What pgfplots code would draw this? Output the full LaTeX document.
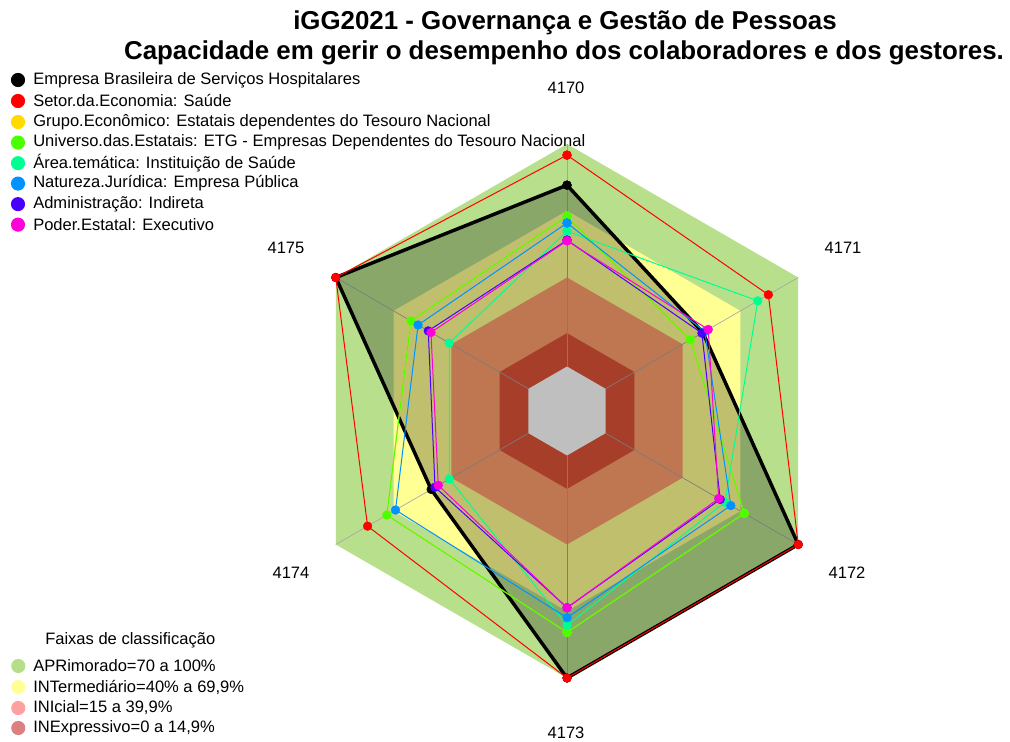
\documentclass[border=0pt]{standalone}
\usepackage{pgfplots}
\pgfplotsset{compat=1.18}
\usepackage{pgfplotstable}
\usepackage{fontspec}
\setmainfont{Liberation Sans}

\definecolor{cGreen}{RGB}{184,224,140}
\definecolor{cYellow}{RGB}{255,255,148}
\definecolor{cSalmon}{RGB}{254,160,107}
\definecolor{cDred}{RGB}{224,83,56}
\definecolor{sRed}{HTML}{FF0000}
\definecolor{sGold}{HTML}{FFDB00}
\definecolor{sLime}{HTML}{49FF00}
\definecolor{sSpring}{HTML}{00FF92}
\definecolor{sBlue}{HTML}{0092FF}
\definecolor{sIndigo}{HTML}{4900FF}
\definecolor{sMagenta}{HTML}{FF00DB}
\definecolor{lgGreen}{RGB}{182,222,136}
\definecolor{lgYellow}{RGB}{255,255,150}
\definecolor{lgPink}{RGB}{255,160,160}
\definecolor{lgDpink}{RGB}{220,128,128}
\definecolor{hdBlue}{RGB}{47,84,150}

% values (%) per axis; angle a in degrees; first row repeated to close the polygon
\pgfplotstableread{
a     emp   setor grupo univ  area  nat   adm   poder
90    81.5  95    67.5  67.5  60.8  64.5  56.8  56.5
30    50.5  84.5  44    44    79    51.5  50    53.3
-30   100   100   72    72    62    65    59.5  58.7
-90   100   100   79.5  79.5  76.3  72.9  68.4  68.4
-150  50.5  83.5  73.5  73.5  41.1  69    48.5  46.8
150   100   100   61    61    41.1  57.3  52    50.6
90    81.5  95    67.5  67.5  60.8  64.5  56.8  56.5
}\data

% classification bands (limits in %)
\pgfplotstableread{
a     bg   by   bs   br   bh
90    100  70   40   15   0
30    100  70   40   15   0
-30   100  70   40   15   0
-90   100  70   40   15   0
-150  100  70   40   15   0
150   100  70   40   15   0
90    100  70   40   15   0
}\bands

\pgfplotsset{
  band/.style={draw=none, fill=#1, forget plot},
  ser/.style={color=#1, line width=0.75pt, mark=*, mark size=3.3pt,
    mark options={solid, line width=0.3pt, fill=#1}},
}
\newcommand{\rx}[1]{(\thisrow{#1}+20)*cos(\thisrow{a})}
\newcommand{\ry}[1]{(\thisrow{#1}+20)*sin(\thisrow{a})}

\begin{document}
\begin{tikzpicture}
\path[use as bounding box] (0,0) rectangle (757.5pt,556.5pt);
\begin{axis}[
  at={(0,0)}, anchor=south west,
  scale only axis, width=757.5pt, height=556.5pt,
  xmin=-254.83, xmax=199.10, ymin=-148.76, ymax=184.72,
  enlargelimits=false, hide axis, clip=false,
]
% bands
\addplot[band=cGreen]  table[x expr={\rx{bg}}, y expr={\ry{bg}}] {\bands};
\addplot[band=cYellow] table[x expr={\rx{by}}, y expr={\ry{by}}] {\bands};
\addplot[band=cSalmon] table[x expr={\rx{bs}}, y expr={\ry{bs}}] {\bands};
\addplot[band=cDred]   table[x expr={\rx{br}}, y expr={\ry{br}}] {\bands};
\addplot[band=white]   table[x expr={\rx{bh}}, y expr={\ry{bh}}] {\bands};
% spokes
\pgfplotsinvokeforeach{90,30,-30,-90,-150,150}{
  \addplot[color=black!35, line width=0.5pt, forget plot]
    table[row sep=\\, x expr={(\thisrow{v}+20)*cos(#1)}, y expr={(\thisrow{v}+20)*sin(#1)}]
    {v\\ 0\\ 100\\};
}
% series
\addplot[color=black, line width=2.6pt, line join=round, fill=black, fill opacity=0.25,
  mark=*, mark size=3.3pt, mark options={solid, line width=0.3pt, fill=black, fill opacity=1}]
  table[x expr={\rx{emp}}, y expr={\ry{emp}}] {\data};
\addplot[ser=sRed]     table[x expr={\rx{setor}}, y expr={\ry{setor}}] {\data};
\addplot[ser=sGold]    table[x expr={\rx{grupo}}, y expr={\ry{grupo}}] {\data};
\addplot[ser=sLime]    table[x expr={\rx{univ}},  y expr={\ry{univ}}]  {\data};
\addplot[ser=sSpring]  table[x expr={\rx{area}},  y expr={\ry{area}}]  {\data};
\addplot[ser=sBlue]    table[x expr={\rx{nat}},   y expr={\ry{nat}}]   {\data};
\addplot[ser=sIndigo]  table[x expr={\rx{adm}},   y expr={\ry{adm}}]   {\data};
\addplot[ser=sMagenta] table[x expr={\rx{poder}}, y expr={\ry{poder}}] {\data};
\end{axis}

% cut heading fragment at top left (as in the reference)
\node[anchor=base west, inner sep=0, text=hdBlue, font=\bfseries\fontsize{22}{26}\selectfont] at (2pt,562.9pt) {g};

% title
\node[anchor=base, inner sep=0, font=\bfseries\fontsize{19.4}{23}\selectfont] at (423.75pt,534pt) {iGG2021 - Governança e Gestão de Pessoas};
\node[anchor=base, inner sep=0, font=\bfseries\fontsize{19.4}{23}\selectfont] at (423pt,511.5pt) {Capacidade em gerir o desempenho dos colaboradores e dos gestores.};

% axis labels
\begin{scope}[every node/.style={inner sep=0, font=\fontsize{12.4}{14}\selectfont}]
\node at (424.5pt,490.5pt) {4170};
\node at (632.25pt,370.5pt) {4171};
\node at (635.25pt,126.75pt) {4172};
\node at (424.5pt,6.75pt) {4173};
\node at (218.25pt,126.75pt) {4174};
\node at (214.5pt,370.5pt) {4175};
\end{scope}

% series legend
\begin{scope}[every node/.style={anchor=west, inner sep=0, font=\fontsize{12.4}{14}\selectfont}]
\fill[black]    (13.5pt,496.5pt)  circle (5.3pt); \node at (24.75pt,496.5pt)  {Empresa Brasileira de Serviços Hospitalares};
\fill[sRed]     (13.5pt,480.75pt) circle (5.3pt); \node at (24.75pt,480.75pt) {Setor.da.Economia: Saúde};
\fill[sGold]    (13.5pt,465pt)    circle (5.3pt); \node at (24.75pt,465pt)    {Grupo.Econômico: Estatais dependentes do Tesouro Nacional};
\fill[sLime]    (13.5pt,449.6pt)  circle (5.3pt); \node at (24.75pt,449.6pt)  {Universo.das.Estatais: ETG - Empresas Dependentes do Tesouro Nacional};
\fill[sSpring]  (13.5pt,434.1pt)  circle (5.3pt); \node at (24.75pt,434.1pt)  {Área.temática: Instituição de Saúde};
\fill[sBlue]    (13.5pt,418.8pt)  circle (5.3pt); \node at (24.75pt,418.8pt)  {Natureza.Jurídica: Empresa Pública};
\fill[sIndigo]  (13.5pt,403.4pt)  circle (5.3pt); \node at (24.75pt,403.4pt)  {Administração: Indireta};
\fill[sMagenta] (13.5pt,388pt)    circle (5.3pt); \node at (24.75pt,388pt)    {Poder.Estatal: Executivo};

% band legend
\node at (33.75pt,76.5pt) {Faixas de classificação};
\fill[lgGreen]  (13.7pt,57pt)    circle (5.3pt); \node at (24.75pt,57pt)    {APRimorado=70 a 100\%};
\fill[lgYellow] (13.7pt,41.25pt) circle (5.3pt); \node at (24.75pt,41.25pt) {INTermediário=40\% a 69,9\%};
\fill[lgPink]   (13.7pt,25.5pt)  circle (5.3pt); \node at (24.75pt,25.5pt)  {INIcial=15 a 39,9\%};
\fill[lgDpink]  (13.7pt,10.5pt)  circle (5.3pt); \node at (24.75pt,10.5pt)  {INExpressivo=0 a 14,9\%};
\end{scope}
\end{tikzpicture}
\end{document}
